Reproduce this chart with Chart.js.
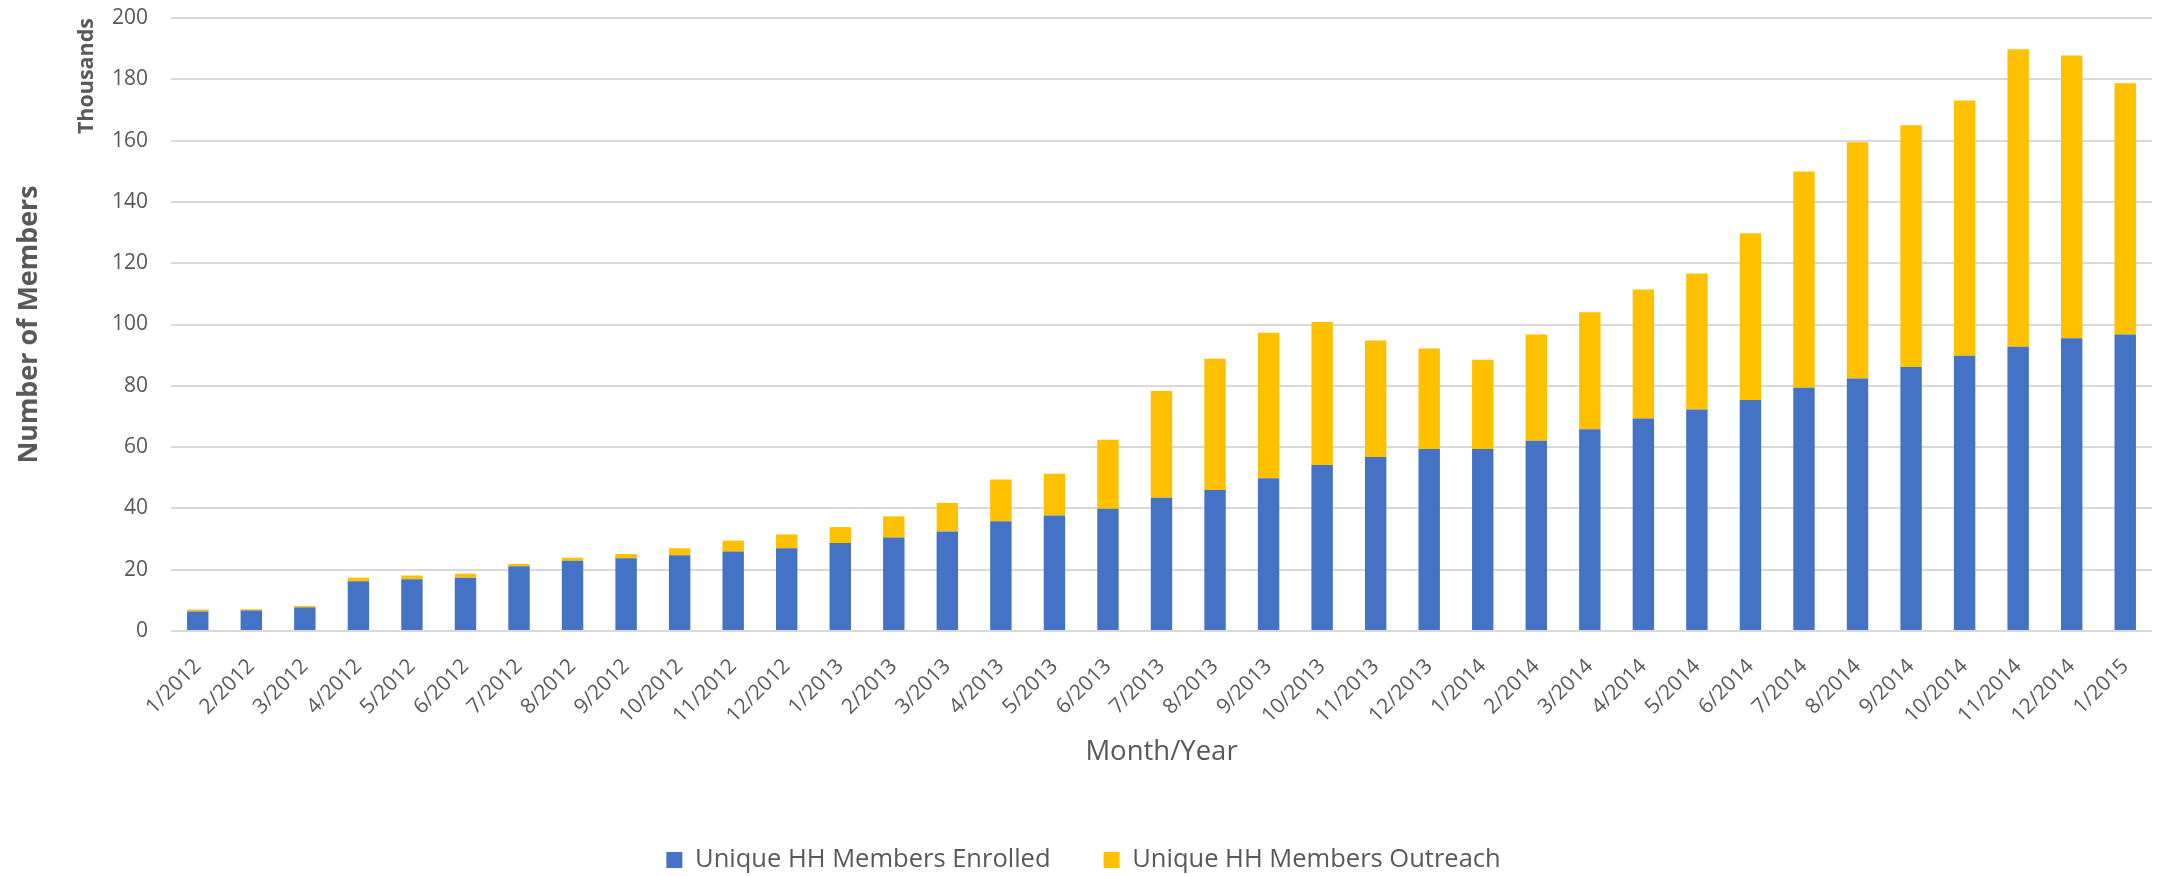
<!DOCTYPE html>
<html>
<head>
<meta charset="utf-8">
<script src="https://cdn.jsdelivr.net/npm/chart.js@4/dist/chart.umd.min.js"></script>
<style>
  html, body { margin: 0; padding: 0; background: #ffffff; }
  #wrap { width: 2167px; height: 876px; }
</style>
</head>
<body>
<div id="wrap"><canvas id="c" width="2167" height="876"></canvas></div>
<script>
const categories = ['1/2012','2/2012','3/2012','4/2012','5/2012','6/2012','7/2012','8/2012','9/2012','10/2012','11/2012','12/2012',
  '1/2013','2/2013','3/2013','4/2013','5/2013','6/2013','7/2013','8/2013','9/2013','10/2013','11/2013','12/2013',
  '1/2014','2/2014','3/2014','4/2014','5/2014','6/2014','7/2014','8/2014','9/2014','10/2014','11/2014','12/2014','1/2015'];

// Thousands of members
const enrolled = [6.4, 6.7, 7.7, 16.2, 16.9, 17.4, 21.1, 22.9, 23.7, 24.7, 25.9, 27.0,
  28.7, 30.5, 32.5, 35.8, 37.7, 39.9, 43.5, 46.0, 49.8, 54.2, 56.8, 59.4,
  59.4, 62.1, 65.8, 69.3, 72.3, 75.4, 79.4, 82.4, 86.1, 89.8, 92.7, 95.5, 96.7];

const outreach = [0.6, 0.4, 0.5, 1.2, 1.2, 1.3, 0.8, 1.0, 1.4, 2.3, 3.6, 4.5,
  5.2, 6.9, 9.3, 13.6, 13.6, 22.5, 34.8, 42.8, 47.5, 46.6, 38.0, 32.8,
  29.1, 34.6, 38.2, 42.1, 44.3, 54.4, 70.5, 77.1, 78.9, 83.3, 97.1, 92.3, 82.0];

const seriesNames = ['Unique HH Members Enrolled', 'Unique HH Members Outreach'];
const yTickMin = 0, yTickMax = 200, yTickStep = 20;

const FONT = "'Open Sans', sans-serif";
const GREY = '#595959';

// pick font sizes so that text widths match the reference
const mctx = document.createElement('canvas').getContext('2d');
function fitSize(text, weight, target) {
  mctx.font = weight + ' 100px ' + FONT;
  return Math.round(100 * target / mctx.measureText(text).width * 10) / 10;
}
const tickSize = fitSize('200', 'normal', 36);
const legendSize = fitSize(seriesNames[0], 'normal', 355);
const xTitleSize = fitSize('Month/Year', 'normal', 152);
const thouSize = fitSize('Thousands', 'bold', 116);
const yTitleSize = fitSize('Number of Members', 'bold', 278);

const LEG_PAD = 53;
const legendHeight = legendSize + LEG_PAD + 10;
const legendBottomPad = -(860 + legendSize / 2 + 10 - 876);
const legendTop = 876 - legendBottomPad - legendHeight;
const xAxisHeight = legendTop - 631;
const xTitlePad = legendTop - 752 - xTitleSize * 1.2 / 2;

new Chart(document.getElementById('c'), {
  type: 'bar',
  data: {
    labels: categories,
    datasets: [
      { label: seriesNames[0], data: enrolled, backgroundColor: '#4472C4', borderWidth: 0,
        barPercentage: 0.4, categoryPercentage: 1.0, stack: 's' },
      { label: seriesNames[1], data: outreach, backgroundColor: '#FFC000', borderWidth: 0,
        barPercentage: 0.4, categoryPercentage: 1.0, stack: 's' }
    ]
  },
  options: {
    responsive: false,
    animation: false,
    devicePixelRatio: 1,
    layout: { padding: { left: 0, right: 0, top: 18, bottom: legendBottomPad } },
    plugins: {
      tooltip: { enabled: false },
      legend: {
        position: 'bottom',
        labels: {
          boxWidth: 16, boxHeight: 16, padding: LEG_PAD,
          color: GREY,
          font: { family: FONT, size: legendSize }
        }
      }
    },
    scales: {
      x: {
        stacked: true,
        grid: { display: false },
        border: { display: false },
        ticks: {
          autoSkip: false, maxRotation: 45, minRotation: 45,
          color: GREY, padding: 15,
          font: { family: FONT, size: tickSize }
        },
        title: {
          display: true, text: 'Month/Year', color: GREY,
          font: { family: FONT, size: xTitleSize },
          padding: { top: 0, bottom: xTitlePad }
        },
        afterFit: (s) => { s.height = xAxisHeight; s.paddingRight = 15; }
      },
      y: {
        stacked: true,
        min: yTickMin, max: yTickMax,
        weight: 0,
        grid: { color: '#D9D9D9', lineWidth: 2, drawTicks: false },
        border: { display: false },
        ticks: {
          stepSize: yTickStep, color: GREY, padding: 23,
          font: { family: FONT, size: tickSize }
        },
        title: {
          display: true, text: 'Thousands', color: GREY, align: 'end',
          font: { family: FONT, size: thouSize, weight: 'bold' },
          padding: { top: 19, bottom: 0 }
        },
        afterFit: (s) => { s.width = 116; s.paddingTop = 0; s.paddingBottom = 0; }
      },
      yTitle: {
        type: 'linear',
        position: 'left',
        weight: 1,
        grid: { display: false, drawTicks: false },
        border: { display: false },
        ticks: { display: false },
        title: {
          display: true, text: 'Number of Members', color: GREY,
          font: { family: FONT, size: yTitleSize, weight: 'bold' },
          padding: { top: 13, bottom: 0 }
        },
        afterFit: (s) => { s.width = 55; s.paddingTop = 0; s.paddingBottom = 0; }
      }
    }
  }
});
</script>
</body>
</html>
